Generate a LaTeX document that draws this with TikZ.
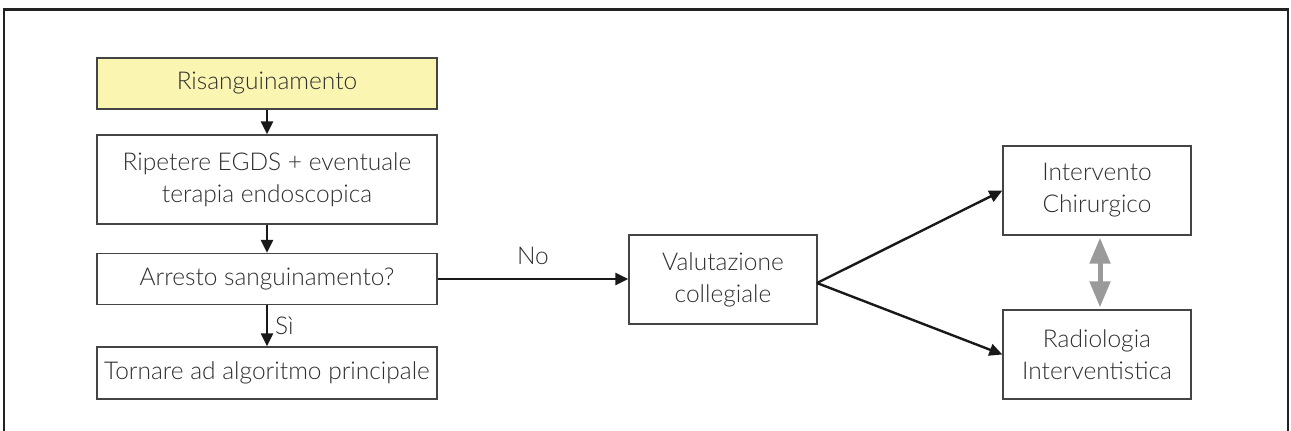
\documentclass[tikz,border=0pt]{standalone}
\usepackage{fontspec}
\setmainfont{Lato}[UprightFont={* Light}]
\usetikzlibrary{arrows.meta}
\definecolor{boxline}{HTML}{444444}
\definecolor{txt}{HTML}{2E2E2E}
\definecolor{hilite}{HTML}{FBF5B2}
\definecolor{framec}{HTML}{222222}
\definecolor{linkgray}{HTML}{9A9A9A}
\tikzset{
  stepbox/.style={draw=boxline, line width=1.3pt, fill=white, text=txt,
    align=center, inner sep=0pt, font=\fontsize{24.5}{32}\selectfont},
  flow/.style={draw=black!90, line width=2.4pt, -{Triangle[length=13pt,width=12pt]}},
  lbl/.style={text=txt, font=\fontsize{24.5}{28}\selectfont, inner sep=0pt},
}
\begin{document}
\begin{tikzpicture}[x=1pt,y=-1pt]
\useasboundingbox (0,0) rectangle (1291,431);
% open frame (no bottom edge)
\draw[framec, line width=2.6pt] (4,431) -- (4,9.5) -- (1288,9.5) -- (1288,431);

% left column
\node[stepbox, fill=hilite, minimum width=340pt, minimum height=51pt] (r1) at (267,83.5) {Risanguinamento};
\node[stepbox, minimum width=340pt, minimum height=89pt] (r2) at (267,179.5) {Ripetere EGDS + eventuale\\terapia endoscopica};
\node[stepbox, minimum width=340pt, minimum height=51pt] (r3) at (267,279) {Arresto sanguinamento?};
\node[stepbox, minimum width=340pt, minimum height=52pt] (r4) at (267,373) {Tornare ad algoritmo principale};

% middle and right
\node[stepbox, minimum width=188pt, minimum height=89pt] (val) at (723,279.5) {Valutazione\\collegiale};
\node[stepbox, minimum width=188pt, minimum height=89pt] (int) at (1097,190.5) {Intervento\\Chirurgico};
\node[stepbox, minimum width=188pt, minimum height=89pt] (rad) at (1097,354.5) {Radiologia\\Interventistica};

% connectors
\draw[flow] (r1) -- (r2);
\draw[flow] (r2) -- (r3);
\draw[flow] (r3) -- node[lbl, right=7pt] {Sì} (r4);
\draw[flow] (r3.east) -- node[lbl, above=13pt] {No} (r3.east -| val.west);
\coordinate (vout) at (817,283);
\draw[flow] (vout) -- (int.west);
\draw[flow] (vout) -- (rad.west);
\draw[linkgray, line width=5pt, {Triangle[length=26pt,width=20pt]}-{Triangle[length=26pt,width=20pt]}]
  ([xshift=3pt,yshift=-2pt]int.south) -- ([xshift=3pt,yshift=2pt]rad.north);
\end{tikzpicture}
\end{document}
